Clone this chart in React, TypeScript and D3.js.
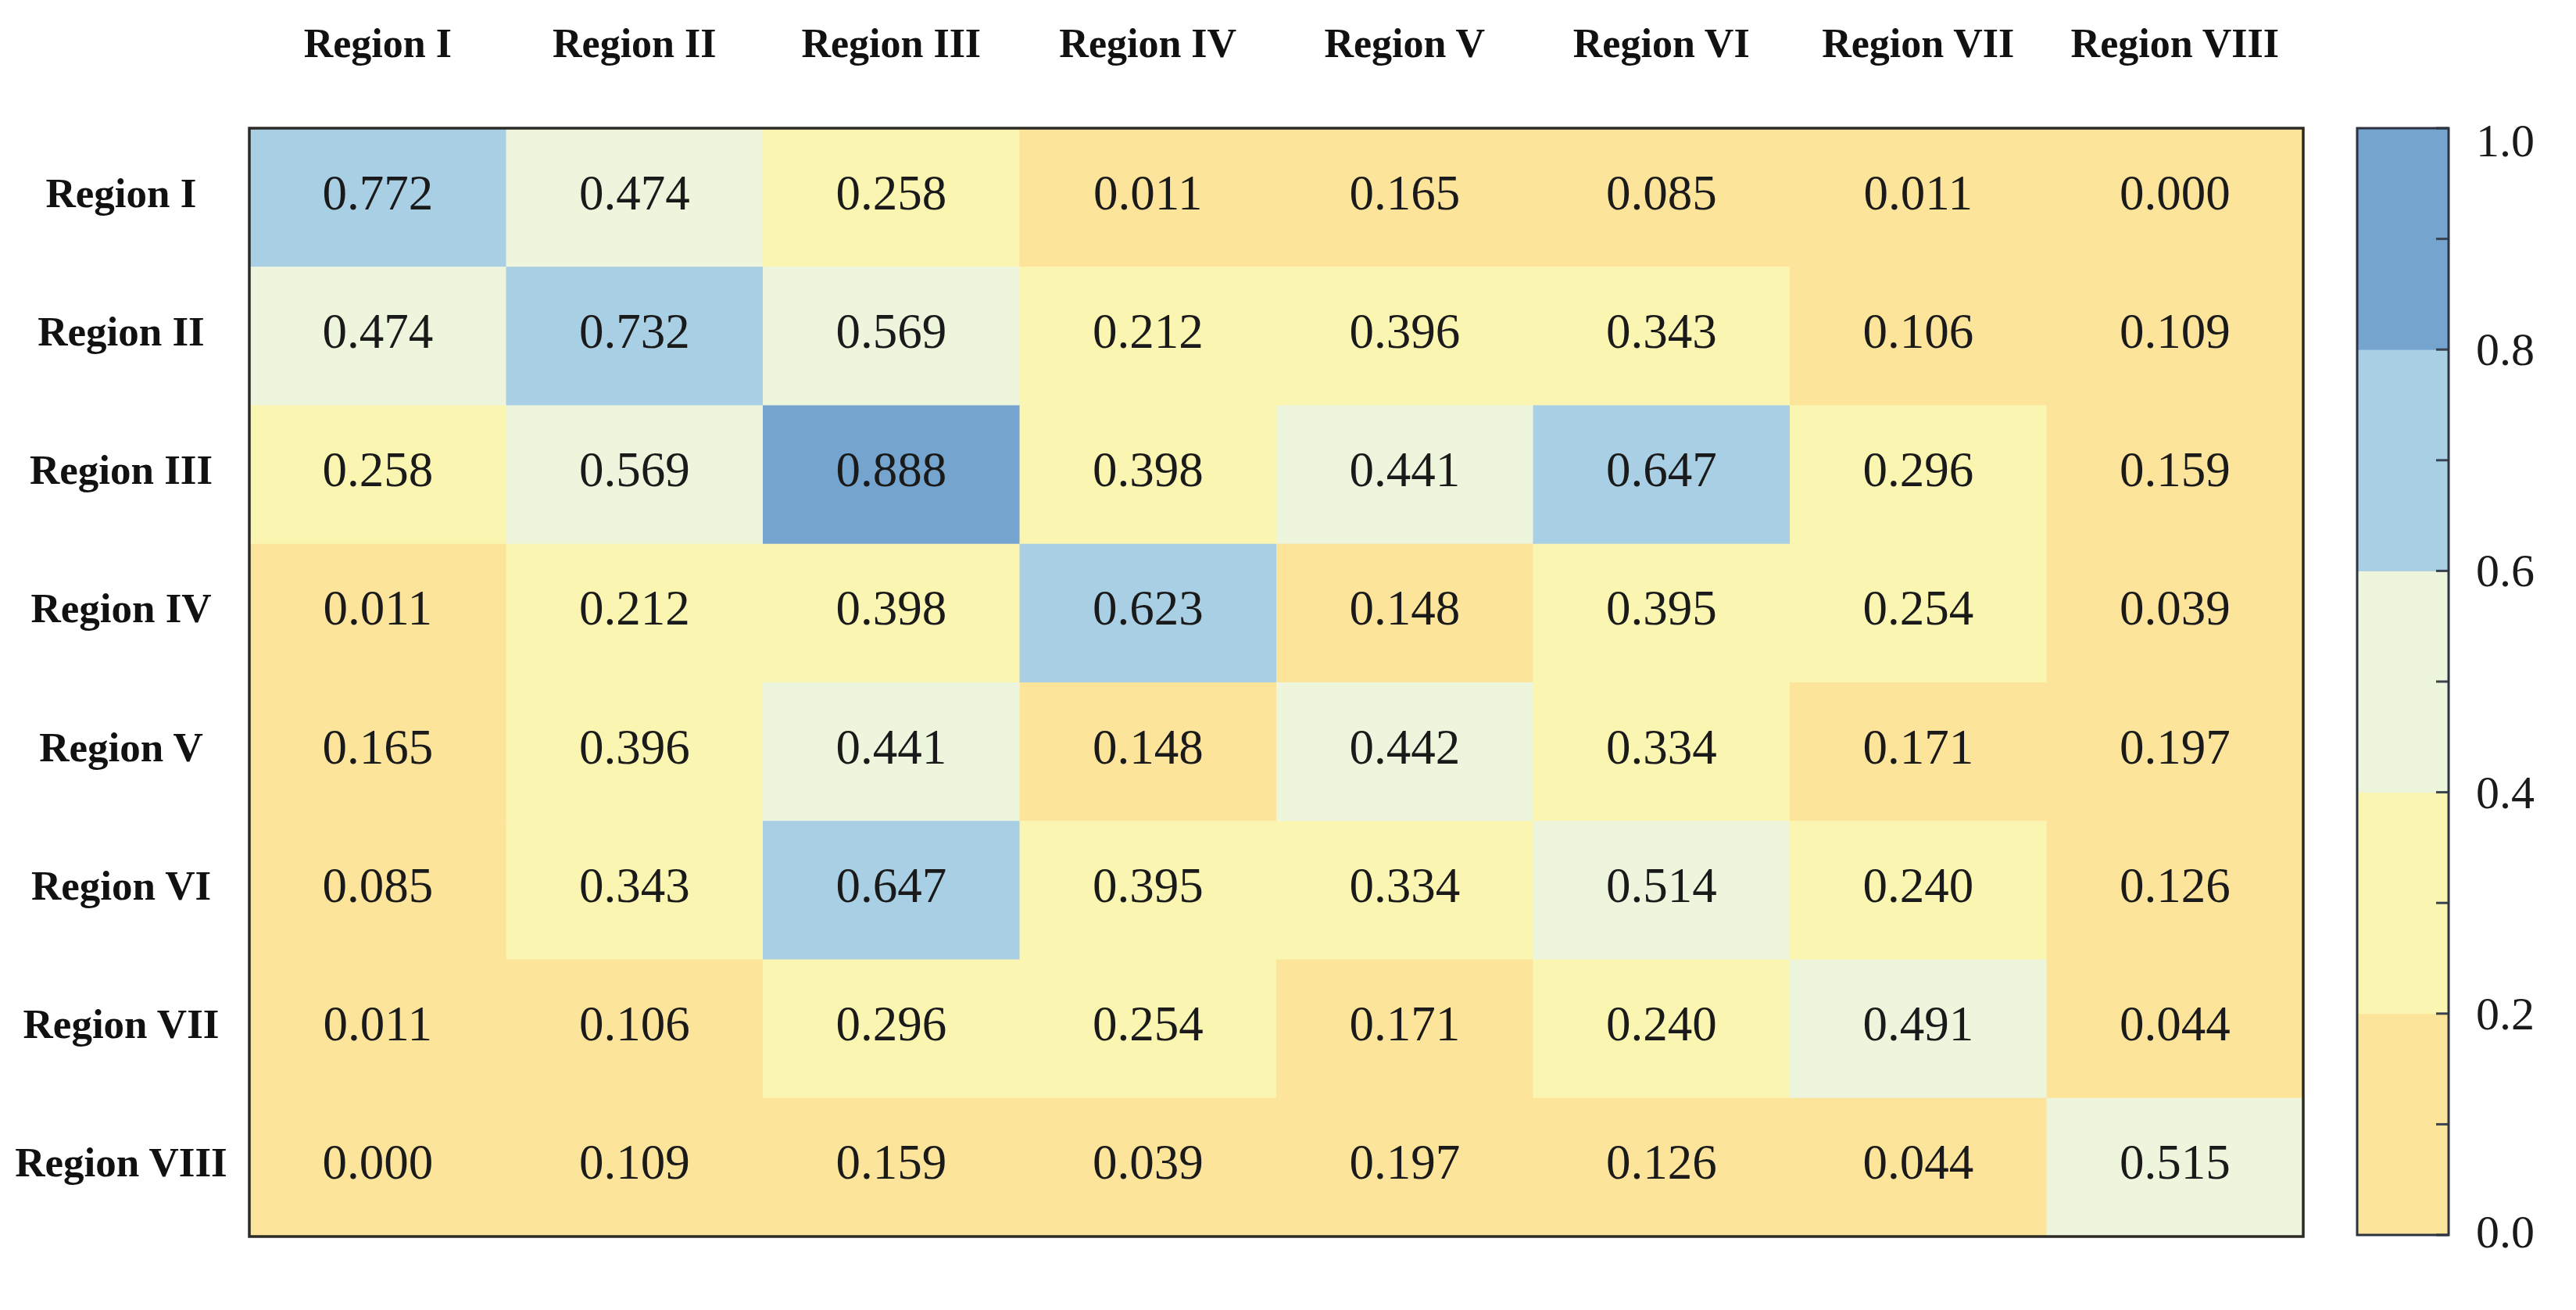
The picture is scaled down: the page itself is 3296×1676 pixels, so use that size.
import React from "react";
import * as d3 from "d3";

const regions = ["Region I", "Region II", "Region III", "Region IV", "Region V", "Region VI", "Region VII", "Region VIII"];

const rowI = [0.772, 0.474, 0.258, 0.011, 0.165, 0.085, 0.011, 0.0];
const rowII = [0.474, 0.732, 0.569, 0.212, 0.396, 0.343, 0.106, 0.109];
const rowIII = [0.258, 0.569, 0.888, 0.398, 0.441, 0.647, 0.296, 0.159];
const rowIV = [0.011, 0.212, 0.398, 0.623, 0.148, 0.395, 0.254, 0.039];
const rowV = [0.165, 0.396, 0.441, 0.148, 0.442, 0.334, 0.171, 0.197];
const rowVI = [0.085, 0.343, 0.647, 0.395, 0.334, 0.514, 0.24, 0.126];
const rowVII = [0.011, 0.106, 0.296, 0.254, 0.171, 0.24, 0.491, 0.044];
const rowVIII = [0.0, 0.109, 0.159, 0.039, 0.197, 0.126, 0.044, 0.515];

const matrix = [rowI, rowII, rowIII, rowIV, rowV, rowVI, rowVII, rowVIII];

const thresholds = [0.2, 0.4, 0.6, 0.8];
const bandColors = ["#FDE49B", "#FBF5B2", "#EEF5DD", "#A9CFE4", "#75A5CF"];
const majorTicks = [0, 0.2, 0.4, 0.6, 0.8, 1.0];
const minorTicks = [0.1, 0.3, 0.5, 0.7, 0.9];

const W = 3296;
const H = 1676;
const box = { x0: 319, x1: 2947, y0: 164, y1: 1582 };
const cbar = { x0: 3016, x1: 3133, y0: 164, y1: 1580 };
const serif = "'Liberation Serif', 'Times New Roman', serif";

export default function App() {
  const x = d3.scaleBand<number>().domain(d3.range(regions.length)).range([box.x0, box.x1]);
  const y = d3.scaleBand<number>().domain(d3.range(regions.length)).range([box.y0, box.y1]);
  const color = d3.scaleThreshold<number, string>().domain(thresholds).range(bandColors);
  const cy = d3.scaleLinear().domain([0, 1]).range([cbar.y1, cbar.y0]);
  const bands = [0, ...thresholds, 1];

  const cells: JSX.Element[] = [];
  matrix.forEach((row, r) =>
    row.forEach((v, c) => {
      cells.push(
        <rect
          key={`c${r}-${c}`}
          x={x(c)!}
          y={y(r)!}
          width={x.bandwidth() + 0.5}
          height={y.bandwidth() + 0.5}
          fill={color(v)}
        />
      );
    })
  );
  const labels: JSX.Element[] = [];
  matrix.forEach((row, r) =>
    row.forEach((v, c) => {
      labels.push(
        <text
          key={`t${r}-${c}`}
          x={x(c)! + x.bandwidth() / 2}
          y={y(r)! + y.bandwidth() / 2 - 6}
          textAnchor="middle"
          dominantBaseline="central"
          fontFamily={serif}
          fontSize={63}
          fill="#1a1a1a"
        >
          {d3.format(".3f")(v)}
        </text>
      );
    })
  );

  return (
    <svg width={W} height={H} style={{ position: "absolute", left: 0, top: 0, background: "#fff" }}>
      <rect x={0} y={0} width={W} height={H} fill="#fff" />
      {cells}
      {labels}
      <rect x={box.x0} y={box.y0} width={box.x1 - box.x0} height={box.y1 - box.y0} fill="none" stroke="#2b2a24" strokeWidth={3.5} />
      {regions.map((name, i) => (
        <text
          key={`h${i}`}
          x={x(i)! + x.bandwidth() / 2}
          y={73}
          textAnchor="middle"
          fontFamily={serif}
          fontWeight="bold"
          fontSize={52}
          fill="#111"
        >
          {name}
        </text>
      ))}
      {regions.map((name, i) => (
        <text
          key={`r${i}`}
          x={155}
          y={y(i)! + y.bandwidth() / 2 - 6}
          textAnchor="middle"
          dominantBaseline="central"
          fontFamily={serif}
          fontWeight="bold"
          fontSize={53}
          fill="#111"
        >
          {name}
        </text>
      ))}
      {bands.slice(0, -1).map((b, i) => (
        <rect
          key={`b${i}`}
          x={cbar.x0}
          y={cy(bands[i + 1])}
          width={cbar.x1 - cbar.x0}
          height={cy(b) - cy(bands[i + 1]) + 0.5}
          fill={color(b + 0.0001)}
        />
      ))}
      {[...majorTicks, ...minorTicks].map((t, i) => (
        <line
          key={`tk${i}`}
          x1={cbar.x1}
          x2={cbar.x1 - 16}
          y1={cy(t)}
          y2={cy(t)}
          stroke="#3a4250"
          strokeWidth={3}
        />
      ))}
      <rect x={cbar.x0} y={cbar.y0} width={cbar.x1 - cbar.x0} height={cbar.y1 - cbar.y0} fill="none" stroke="#2e3340" strokeWidth={3} />
      {majorTicks.map((t, i) => (
        <text
          key={`tl${i}`}
          x={3168}
          y={cy(t) + (t === 1 ? 16 : t === 0 ? -4 : 0)}
          dominantBaseline="central"
          fontFamily={serif}
          fontSize={60}
          fill="#1a1a1a"
        >
          {d3.format(".1f")(t)}
        </text>
      ))}
    </svg>
  );
}
